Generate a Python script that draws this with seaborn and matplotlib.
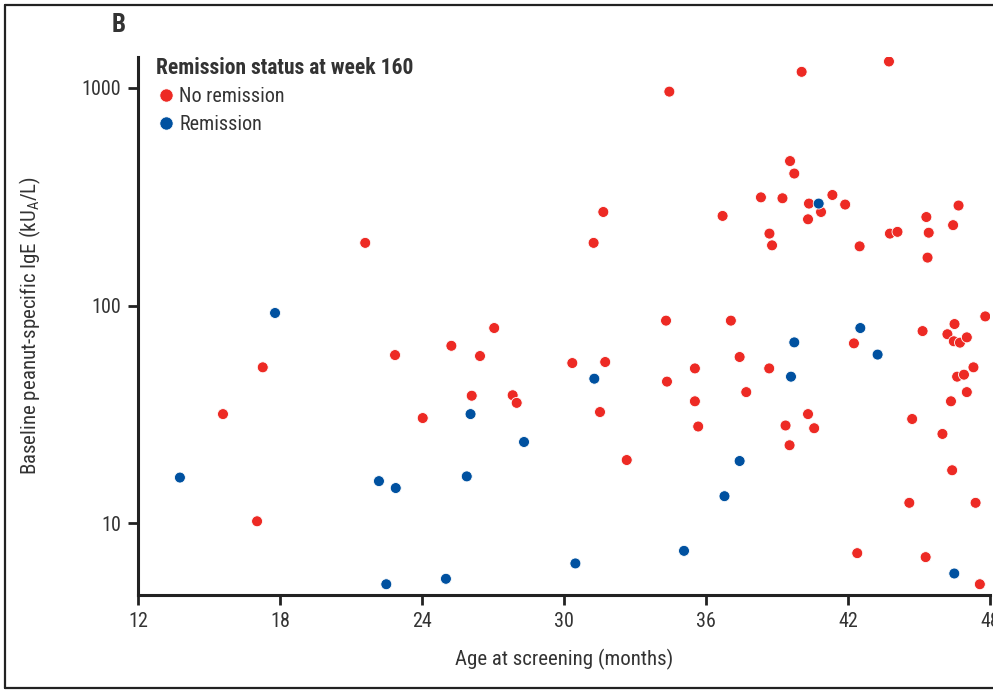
import matplotlib
matplotlib.use("Agg")
import matplotlib.pyplot as plt
import matplotlib.font_manager as fm
import seaborn as sns
import pandas as pd
from matplotlib.lines import Line2D
from matplotlib.ticker import FixedLocator, NullLocator

# ---- data ----
no_rem_age = [21.6, 22.86, 25.24, 27.05, 26.45, 17.27, 15.59, 26.1, 27.83, 28.0, 24.03, 17.03,
              34.31, 37.05, 30.35, 31.74, 31.52, 32.65, 34.35, 35.53, 35.53, 35.67, 37.42, 37.7,
              38.67, 40.31, 39.36, 40.57, 39.53, 42.25, 42.39, 45.15, 44.71, 44.59, 45.28,
              46.5, 46.2, 46.47, 46.73, 47.02, 47.8, 47.3, 46.61, 46.9, 47.02, 46.35, 45.99,
              46.4, 47.39, 47.57,
              34.45, 40.04, 43.73, 39.55, 39.73, 38.32, 39.23, 40.35, 41.34, 41.88, 40.86,
              40.31, 36.7, 38.68, 38.79, 42.49, 31.66, 31.25, 43.77, 44.09, 45.31, 45.41,
              45.36, 46.67, 46.44]
no_rem_ige = [194, 59.2, 65.3, 78.8, 58.6, 52, 31.7, 38.5, 38.7, 35.7, 30.4, 10.2,
              85.2, 85.2, 54.4, 55, 32.4, 19.5, 44.7, 51.4, 36.3, 27.8, 58, 40,
              51.4, 31.7, 28.1, 27.3, 22.8, 67, 7.28, 76.3, 30.1, 12.4, 6.98,
              82.2, 73.8, 68.5, 67.5, 71.4, 89.1, 52, 47.1, 48.1, 40, 36.3, 25.7,
              17.5, 12.4, 5.24,
              961, 1185, 1322, 461, 404, 314, 311, 294, 322, 291, 269,
              249, 258, 214, 189, 187, 269, 194, 214, 218, 255, 216,
              166, 288, 234]
rem_age = [17.79, 26.05, 28.31, 13.77, 22.18, 22.89, 25.89, 22.49, 25.01, 31.28, 37.42,
           36.78, 35.07, 30.48, 39.73, 39.59, 42.52, 43.25, 46.49, 40.76]
rem_ige = [92.4, 31.7, 23.6, 16.2, 15.6, 14.5, 16.4, 5.24, 5.55, 46.1, 19.3,
           13.3, 7.46, 6.53, 67.7, 47.1, 78.8, 59.5, 5.87, 294]
status_labels = ["No remission", "Remission"]
x_ticks = [12, 18, 24, 30, 36, 42, 48]
y_ticks = [10, 100, 1000]

df = pd.DataFrame({
    "age": no_rem_age + rem_age,
    "ige": no_rem_ige + rem_ige,
    "status": [status_labels[0]] * len(no_rem_age) + [status_labels[1]] * len(rem_age),
})

# register any narrow / condensed system fonts so matplotlib can find them
for f in fm.findSystemFonts():
    if "Narrow" in f or "Condensed" in f:
        try:
            fm.fontManager.addfont(f)
        except Exception:
            pass
available = {f.name for f in fm.fontManager.ttflist}
family = None
for cand in ["Liberation Sans Narrow", "DejaVu Sans Condensed", "Roboto Condensed",
             "Open Sans Condensed", "Noto Sans Condensed", "Liberation Sans"]:
    if cand in available:
        family = cand
        break
if family is None:
    family = "DejaVu Sans"

sns.set_style("ticks")
plt.rcParams["font.family"] = [family, "DejaVu Sans"]
plt.rcParams["mathtext.fontset"] = "custom"
plt.rcParams["mathtext.rm"] = family

fig = plt.figure(figsize=(9.93, 6.92), dpi=100)
ax = fig.add_axes([0.139, 0.140, 0.858, 0.778])

red = "#ED2A24"
blue = "#0051A0"
sns.scatterplot(data=df, x="age", y="ige", hue="status", hue_order=status_labels,
                palette=[red, blue], s=62, edgecolor="white", linewidth=0.6,
                ax=ax, legend=False, zorder=3)

ax.set_yscale("log")
ax.set_xlim(12, 48)
ax.set_ylim(4.67, 1390)
ax.xaxis.set_major_locator(FixedLocator(x_ticks))
ax.set_xticklabels([str(t) for t in x_ticks])
ax.yaxis.set_major_locator(FixedLocator(y_ticks))
ax.yaxis.set_minor_locator(NullLocator())
ax.set_yticklabels([str(t) for t in y_ticks])
ax.tick_params(axis="both", which="major", length=7, width=2, labelsize=14.5, color="#222222",
               labelcolor="#333333", pad=5)

for s in ["top", "right"]:
    ax.spines[s].set_visible(False)
for s in ["left", "bottom"]:
    ax.spines[s].set_linewidth(2.2)
    ax.spines[s].set_color("#222222")

ax.set_xlabel("Age at screening (months)", fontsize=15, color="#333333", labelpad=13)
ax.set_ylabel(r"Baseline peanut-specific IgE (kU$_\mathregular{A}$/L)", fontsize=15,
              color="#333333", labelpad=28)

handles = [Line2D([0], [0], marker="o", linestyle="none", markersize=9.5,
                  markerfacecolor=c, markeredgecolor="white", markeredgewidth=0.5)
           for c in [red, blue]]
leg = ax.legend(handles, status_labels, title="Remission status at week 160",
                loc="upper left", bbox_to_anchor=(0.012, 1.015), frameon=False,
                fontsize=14.5, title_fontproperties={"weight": "bold", "size": 15.5},
                handletextpad=0.15, handlelength=1.0, labelspacing=0.42,
                alignment="left", borderaxespad=0.0)
for t in leg.get_texts():
    t.set_color("#333333")
leg.get_title().set_color("#333333")

fig.text(0.119, 0.964, "B", fontsize=18, fontweight="bold", ha="center", va="center",
         color="#333333")

# figure frame (left, top, bottom visible in reference)
fig.add_artist(Line2D([0.005, 0.005], [0.006, 0.993], transform=fig.transFigure,
                      color="#222222", linewidth=1.6))
fig.add_artist(Line2D([0.005, 1.0], [0.993, 0.993], transform=fig.transFigure,
                      color="#222222", linewidth=1.6))
fig.add_artist(Line2D([0.005, 1.0], [0.006, 0.006], transform=fig.transFigure,
                      color="#222222", linewidth=1.6))

fig.savefig("out.png", dpi=100)
